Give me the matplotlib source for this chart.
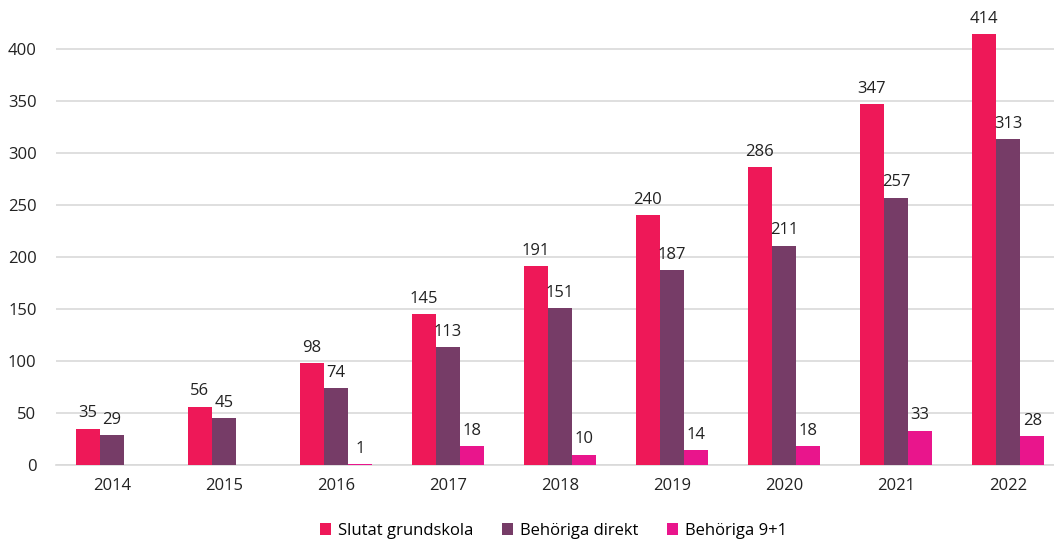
import matplotlib.pyplot as plt
import numpy as np

plt.rcParams['font.family'] = ['Open Sans', 'DejaVu Sans']

years = ['2014', '2015', '2016', '2017', '2018', '2019', '2020', '2021', '2022']
slutat = [35, 56, 98, 145, 191, 240, 286, 347, 414]
direkt = [29, 45, 74, 113, 151, 187, 211, 257, 313]
nio_plus_ett = [np.nan, np.nan, 1, 18, 10, 14, 18, 33, 28]

series = [
    ('Slutat grundskola', slutat, '#EE1858'),
    ('Behöriga direkt', direkt, '#763C67'),
    ('Behöriga 9+1', nio_plus_ett, '#E9158C'),
]

fig = plt.figure(figsize=(10.54, 5.44), dpi=100)
ax = fig.add_axes([56 / 1054, 79 / 544, 1008 / 1054, 465 / 544])

x = np.arange(len(years))
w = 0.216
for i, (name, vals, col) in enumerate(series):
    pos = x + (i - 1) * w
    ax.bar(pos, vals, width=w, color=col, label=name, zorder=3)
    for p, v in zip(pos, vals):
        if not np.isnan(v):
            ax.text(p, v + 7, f'{int(v)}', ha='center', va='bottom',
                    fontsize=12, color='#222222', zorder=4)

ax.set_xlim(-0.5, 8.5)
ax.set_ylim(0, 447)
ax.set_yticks(range(0, 401, 50))
ax.set_xticks(x)
ax.set_xticklabels(years)
ax.grid(axis='y', color='#D9D9D9', linewidth=1.2, zorder=0)
ax.set_axisbelow(True)
for s in ['top', 'right', 'left']:
    ax.spines[s].set_visible(False)
ax.spines['bottom'].set_color('#D9D9D9')
ax.spines['bottom'].set_linewidth(1.2)
ax.tick_params(axis='both', length=0, labelsize=12, colors='#222222')
ax.tick_params(axis='x', pad=9)
ax.tick_params(axis='y', pad=14)

fig.legend(loc='center', bbox_to_anchor=(0.525, 13 / 544), ncol=3,
           frameon=False, fontsize=12, handlelength=0.7, handleheight=0.7,
           handletextpad=0.4, columnspacing=1.7)

fig.savefig('out.png', dpi=100)
